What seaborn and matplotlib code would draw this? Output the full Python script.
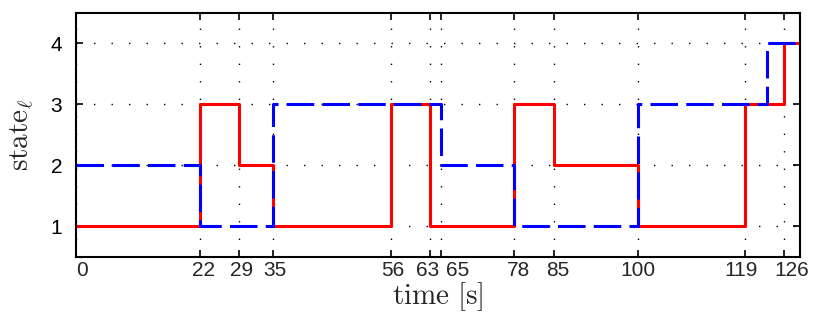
import pandas as pd
import matplotlib
matplotlib.use("Agg")
import matplotlib.pyplot as plt
import matplotlib.transforms as mtransforms
import seaborn as sns

# switching times and states (step signals)
red_time = [0, 22, 29, 35, 56, 63, 78, 85, 100, 119, 126, 130]
red_state = [1, 3, 2, 1, 3, 1, 3, 2, 1, 3, 4, 4]
blue_time = [0, 22, 35, 65, 78, 100, 123, 130]
blue_state = [2, 1, 3, 2, 1, 3, 4, 4]
xticks = [0, 22, 29, 35, 56, 63, 65, 78, 85, 100, 119, 126]
yticks = [1, 2, 3, 4]

# horizontal nudges (px) for crowded tick labels
label_shift = [5.5, 3.5, 2.5, 2.5, 2.3, -2, 16, 3.7, 3.8, 0.3, -4, 8]

sns.set_style("white")
plt.rcParams["font.family"] = ["Liberation Sans", "DejaVu Sans"]
plt.rcParams["mathtext.fontset"] = "cm"

red_df = pd.DataFrame({"time": red_time, "state": red_state})
blue_df = pd.DataFrame({"time": blue_time, "state": blue_state})

fig = plt.figure(figsize=(8.3, 3.16), dpi=100)
ax = fig.add_axes([0.0916, 0.1867, 0.8723, 0.7725])

sns.lineplot(data=red_df, x="time", y="state", ax=ax, color="#ff0000",
             linewidth=2.2, drawstyle="steps-post", estimator=None, sort=False)
sns.lineplot(data=blue_df, x="time", y="state", ax=ax, color="#0000ff",
             linewidth=2.2, drawstyle="steps-post", estimator=None, sort=False,
             dashes=False, linestyle=(0, (9, 2.7)))

ax.set_xlim(0, 128.85)
ax.set_ylim(0.5, 4.5)
ax.set_xticks(xticks)
ax.set_yticks(yticks)
ax.set_yticklabels([str(t) for t in yticks], fontsize=15)

# x tick labels drawn as text so the crowded ones can be nudged
base = mtransforms.blended_transform_factory(ax.transData, ax.transAxes)
for t, dx in zip(xticks, label_shift):
    off = mtransforms.ScaledTranslation(dx / 100, -3.5 / 100, fig.dpi_scale_trans)
    ax.text(t, 0, str(t), transform=base + off, ha="center", va="top",
            fontsize=15, clip_on=False)

ax.grid(True, color="black", linestyle=(0, (1, 11.6)), linewidth=1.0)
ax.set_axisbelow(True)
ax.tick_params(direction="in", length=5, width=1.2, top=True, right=True,
               bottom=True, left=True, colors="black")
ax.tick_params(axis="x", labelbottom=False)
ax.tick_params(axis="y", pad=10)
for s in ax.spines.values():
    s.set_linewidth(1.5)
    s.set_color("black")

ax.set_xlabel(r"$\mathrm{time}\ [\mathrm{s}]$", fontsize=21, labelpad=17)
ax.set_ylabel(r"$\mathrm{state}_\ell$", fontsize=21, labelpad=10.5)

fig.savefig("out.png", dpi=100)
